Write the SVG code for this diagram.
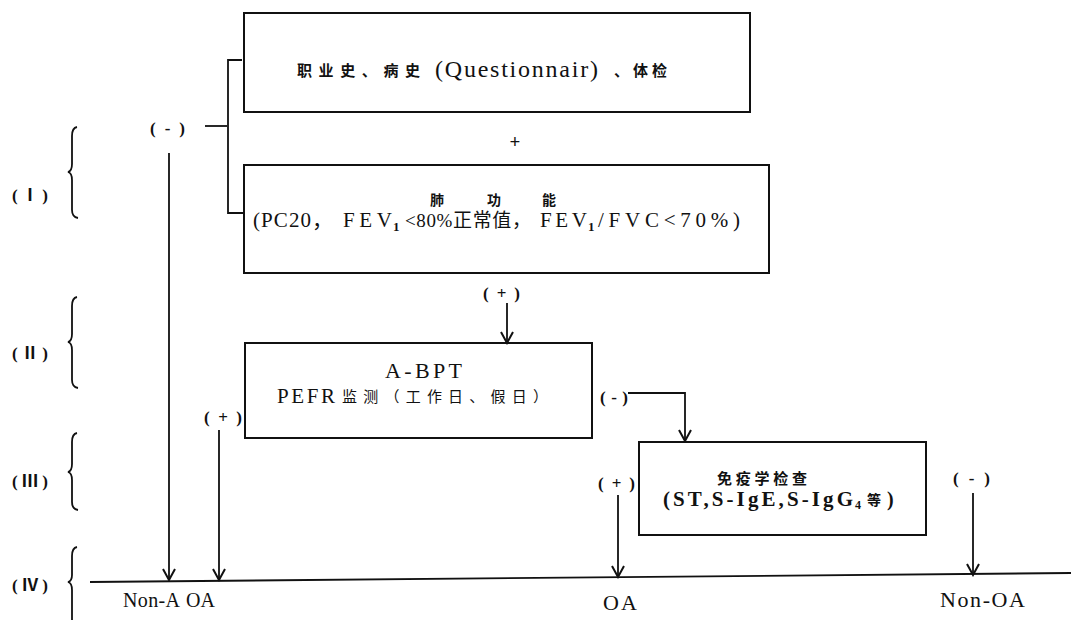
<svg xmlns="http://www.w3.org/2000/svg" width="1071" height="623" viewBox="0 0 1071 623">
  <style>
    .box { fill: #fff; stroke: #111; stroke-width: 2; }
    .ln { fill: none; stroke: #111; stroke-width: 1.8; }
    .arr { marker-end: url(#head); }
    .lat { font-family: "Liberation Serif", "DejaVu Serif", "Noto Sans CJK SC", serif; fill: #111; }
    .cjk { font-family: "Noto Sans CJK SC", "Liberation Serif", sans-serif; fill: #111; }
    .b { font-weight: bold; }
    .sign { font-family: "Liberation Serif", "Noto Sans CJK SC", serif; font-size: 17px; font-weight: bold; fill: #111; }
    .lvl { font-family: "Liberation Serif", "Noto Sans CJK SC", serif; font-size: 17px; font-weight: bold; fill: #111; }
  </style>
  <defs>
    <marker id="head" viewBox="-2 -8 15 16" refX="11" refY="0" markerWidth="15" markerHeight="16" markerUnits="userSpaceOnUse" orient="auto">
      <path d="M0,-6 L11,0 L0,6" fill="none" stroke="#111" stroke-width="2"/>
    </marker>
  </defs>
  <rect width="1071" height="623" fill="#fff"/>

  <!-- step levels on the left -->
  <g id="levels">
    <text class="lvl" x="12" y="201" textLength="36" lengthAdjust="spacing">(Ⅰ)</text>
    <path class="ln" d="M77,127 Q72,128 72,136 L72,164 Q72,171 68,172 Q72,173 72,180 L72,210 Q72,217 78,218"/>
    <text class="lvl" x="12" y="359" textLength="36" lengthAdjust="spacing">(Ⅱ)</text>
    <path class="ln" d="M77,297 Q72,298 72,306 L72,334 Q72,341 68,342 Q72,343 72,350 L72,380 Q72,387 78,388"/>
    <text class="lvl" x="12" y="487" textLength="36" lengthAdjust="spacing">(Ⅲ)</text>
    <path class="ln" d="M77,433 Q72,434 72,442 L72,464 Q72,471 68,472 Q72,473 72,480 L72,502 Q72,509 78,510"/>
    <text class="lvl" x="12" y="591" textLength="36" lengthAdjust="spacing">(Ⅳ)</text>
    <path class="ln" d="M77,547 Q72,548 72,556 L72,575 Q72,581 68,582 Q72,583 72,590 L72,620"/>
  </g>

  <!-- history and examination -->
  <g id="history">
    <rect class="box" x="244" y="13" width="506" height="99"/>
    <text class="cjk b" x="297" y="76" font-size="15" textLength="123" lengthAdjust="spacing">职业史、病史</text>
    <text class="lat" x="435" y="77" font-size="24" textLength="163" lengthAdjust="spacing">(Questionnair)</text>
    <text class="cjk b" x="614" y="76" font-size="15" textLength="53" lengthAdjust="spacing">、体检</text>
  </g>

  <text id="plus" class="lat b" x="515" y="148" font-size="19" text-anchor="middle">+</text>

  <!-- lung function -->
  <g id="lung-function">
    <rect class="box" x="244" y="165" width="525" height="108"/>
    <text class="cjk b" x="430" y="205" font-size="14">肺</text>
    <text class="cjk b" x="487" y="205" font-size="14">功</text>
    <text class="cjk b" x="542" y="205" font-size="14">能</text>
    <text class="lat" x="253" y="227" font-size="21" textLength="80" lengthAdjust="spacing">(PC20，</text>
    <text class="lat" x="343" y="227" font-size="21" textLength="49" lengthAdjust="spacing">FEV</text>
    <text class="lat b" x="393" y="231" font-size="13">1</text>
    <text class="lat" x="405" y="227" font-size="19" textLength="126" lengthAdjust="spacing">&lt;80%正常值，</text>
    <text class="lat" x="540" y="227" font-size="21" textLength="47" lengthAdjust="spacing">FEV</text>
    <text class="lat b" x="588" y="231" font-size="13">1</text>
    <text class="lat" x="598" y="227" font-size="21" textLength="142" lengthAdjust="spacing">/FVC&lt;70%)</text>
  </g>

  <!-- bronchial provocation / PEFR -->
  <g id="pefr">
    <rect class="box" x="245" y="343" width="347" height="95"/>
    <text class="lat" x="385" y="378" font-size="22" textLength="77" lengthAdjust="spacing">A-BPT</text>
    <text class="lat" x="277" y="403" font-size="21" textLength="58" lengthAdjust="spacing">PEFR</text>
    <text class="cjk" x="342" y="402" font-size="15" textLength="206" lengthAdjust="spacing">监测（工作日、假日）</text>
  </g>

  <!-- immunology -->
  <g id="immunology">
    <rect class="box" x="639" y="442" width="287" height="93"/>
    <text class="cjk b" x="717" y="484" font-size="15" textLength="90" lengthAdjust="spacing">免疫学检查</text>
    <text class="lat b" x="663" y="506" font-size="21" textLength="190" lengthAdjust="spacing">(ST,S-IgE,S-IgG</text>
    <text class="lat b" x="855" y="509" font-size="12">4</text>
    <text class="cjk b" x="867" y="505" font-size="14">等</text>
    <text class="lat b" x="887" y="506" font-size="20">)</text>
  </g>

  <!-- outcome axis -->
  <g id="outcomes">
    <line class="ln" x1="90" y1="582" x2="1071" y2="573"/>
    <text class="lat" x="123" y="607" font-size="20" textLength="57" lengthAdjust="spacing">Non-A</text>
    <text class="lat" x="186" y="607" font-size="20" textLength="29" lengthAdjust="spacing">OA</text>
    <text class="lat" x="603" y="610" font-size="22" textLength="34" lengthAdjust="spacing">OA</text>
    <text class="lat" x="940" y="607" font-size="22" textLength="85" lengthAdjust="spacing">Non-OA</text>
  </g>

  <!-- connectors and result signs -->
  <g id="connectors">
    <path class="ln" d="M242,60 H228 V213 H244"/>
    <line class="ln" x1="227" y1="126" x2="205" y2="126"/>
    <text class="sign" x="150" y="134" textLength="35" lengthAdjust="spacing">(-)</text>
    <line class="ln arr" x1="169" y1="153" x2="169" y2="580"/>

    <text class="sign" x="483" y="299" textLength="37" lengthAdjust="spacing">(+)</text>
    <line class="ln arr" x1="507" y1="303" x2="507" y2="343"/>

    <text class="sign" x="204" y="423" textLength="38" lengthAdjust="spacing">(+)</text>
    <line class="ln arr" x1="219" y1="430" x2="219" y2="580"/>

    <text class="sign" x="600" y="403" textLength="28" lengthAdjust="spacing">(-)</text>
    <path class="ln arr" d="M628,393 H685 V441"/>

    <text class="sign" x="598" y="489" textLength="37" lengthAdjust="spacing">(+)</text>
    <line class="ln arr" x1="618" y1="495" x2="618" y2="577"/>

    <text class="sign" x="953" y="484" textLength="37" lengthAdjust="spacing">(-)</text>
    <line class="ln arr" x1="973" y1="493" x2="973" y2="575"/>
  </g>
</svg>
